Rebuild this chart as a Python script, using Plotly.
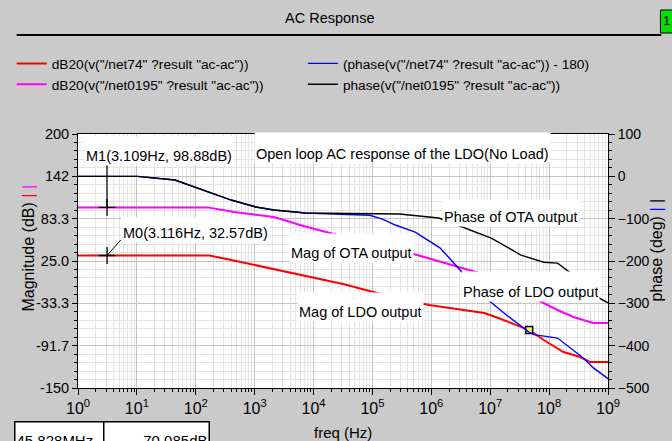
import numpy as np
import plotly.graph_objects as go

# ---------------- data ----------------
ldo_mag_freq = [1, 171, 400, 1.44e3, 6.73e3, 3.16e4, 2.18e5, 9.12e5, 7.94e6, 1.37e7,
                4.58e7, 8.09e7, 1.75e8, 3.38e8, 4.98e8, 1e9]
ldo_mag_db = [32.57, 32.57, 26.4, 16.7, 4.3, -6.7, -24.6, -35.6, -46.7, -53.5,
              -70.1, -83.9, -100.4, -107.3, -114.2, -114.2]

ota_mag_freq = [1, 158, 450, 2.11e3, 6.73e3, 3.41e4, 5.74e5, 1.51e6, 8.59e6, 5.94e7,
                1.39e8, 2.58e8, 5.58e8, 1e9]
ota_mag_db = [98.88, 98.88, 92.5, 85.6, 73.2, 58.1, 33.3, 23.6, 5.7, -27.4,
              -42.5, -52.2, -60.4, -60.4]

ldo_phase_freq = [1, 10.2, 44.2, 158, 400, 1.05e3, 2.11e3, 7.28e3, 3.84e4, 8.97e4,
                  1.48e5, 2.45e5, 5.31e5, 1.4e6, 2.49e6, 3.67e6, 9.29e6, 1.86e7,
                  4.53e7, 5.5e7, 1.39e8, 2.3e8, 3.8e8, 5.58e8, 1e9]
ldo_phase_deg = [0, 0, -8.7, -37, -56, -72.5, -79.6, -86.7, -91, -92,
                 -101, -115, -132, -169, -207, -233, -292, -327,
                 -368, -374, -382, -405, -429, -452, -478]

ota_phase_freq = [1, 10.2, 44.2, 158, 400, 1.05e3, 2.11e3, 7.28e3, 2.86e5, 1.34e6,
                  2.69e6, 1.04e7, 3.33e7, 8.09e7, 1.39e8, 2.58e8, 6.53e8, 1e9]
ota_phase_deg = [0, 0, -8.7, -37, -56, -72.5, -79.6, -86.7, -89, -98.5,
                 -115, -146, -186, -203, -205, -233, -285, -299]

series_names = ['dB20(v("/net74" ?result "ac-ac"))',
                'dB20(v("/net0195" ?result "ac-ac"))',
                '(phase(v("/net74" ?result "ac-ac")) - 180)',
                'phase(v("/net0195" ?result "ac-ac"))']
series_colors = ["#ff0000", "#ff00ff", "#0000ff", "#000000"]

marker_freq = [3.116, 3.109]
marker_db = [32.57, 98.88]
marker_labels = ["M0(3.116Hz, 32.57dB)", "M1(3.109Hz, 98.88dB)"]

cursor_freq = [45.828e6]
cursor_db = [-70.085]
cursor_text = ["45.828MHz", "-70.085dB"]

curve_labels = ["Mag of OTA output", "Mag of LDO output",
                "Phase of OTA output", "Phase of LDO output"]
chart_note = "Open loop AC response of the LDO(No Load)"

mag_ticks = [200, 141.667, 83.333, 25.0, -33.333, -91.667, -150]
mag_tick_text = ["200", "142", "83.3", "25.0", "-33.3", "-91.7", "-150"]
phase_ticks = [100, 0, -100, -200, -300, -400, -500]
freq_ticks = [1e0, 1e1, 1e2, 1e3, 1e4, 1e5, 1e6, 1e7, 1e8, 1e9]
freq_tick_text = ["10<sup>%d</sup>" % k for k in range(10)]

# ---------------- layout helpers ----------------
W, H = 672, 441
L, R, T, B = 72, 64, 134, 53
PW, PH = W - L - R, H - T - B
FONT = "Liberation Sans, Arial, sans-serif"
GRID = "#c4c4c4"
MINOR = "#e4e4e4"
PAPER = "#cacaca"


def xp(px):
    return (px - L) / PW


def yp(py):
    return (H - B - py) / PH


fig = go.Figure()

# draw order: red, magenta, blue, black ; legend order row-wise: red, blue / magenta, black
xs = [ldo_mag_freq, ota_mag_freq, ldo_phase_freq, ota_phase_freq]
ys = [ldo_mag_db, ota_mag_db, ldo_phase_deg, ota_phase_deg]
axes = ["y", "y", "y2", "y2"]
widths = [2, 2, 1.4, 1.4]
ranks = [1, 3, 2, 4]
for i in range(4):
    fig.add_trace(go.Scatter(x=xs[i], y=ys[i], mode="lines", name=series_names[i],
                             yaxis=axes[i], legendrank=ranks[i],
                             line=dict(color=series_colors[i], width=widths[i])))

fig.add_trace(go.Scatter(x=marker_freq, y=marker_db, mode="markers", showlegend=False,
                         marker=dict(symbol="cross-thin", size=12,
                                     line=dict(color="black", width=1.3))))
fig.add_trace(go.Scatter(x=cursor_freq, y=cursor_db, mode="markers", showlegend=False,
                         marker=dict(symbol="square", size=7, color="#ffee66",
                                     line=dict(color="black", width=1.5))))

ann = []
tf = dict(family=FONT, size=14.5, color="black")

# marker leader lines (M0 diagonal, M1 vertical)
ann.append(dict(x=np.log10(marker_freq[0]), y=marker_db[0], xref="x", yref="y",
                text="", showarrow=True, arrowhead=0, arrowwidth=1, arrowcolor="black",
                ax=15, ay=-17))
ann.append(dict(x=np.log10(marker_freq[1]), y=marker_db[1], xref="x", yref="y",
                text="", showarrow=True, arrowhead=0, arrowwidth=1.2, arrowcolor="black",
                ax=0, ay=-44))

# white-backed labels: (text, left px, bottom px, height)
labels = [
    (chart_note, 250, 164, 28),
    (marker_labels[1], 78, 166, 26),
    (marker_labels[0], 115, 243, 22),
    (curve_labels[0], 285, 263, 26),
    (curve_labels[1], 293, 322, 26),
    (curve_labels[2], 440, 227, 24),
    (curve_labels[3], 459, 302, 27),
]
for text, lx, by, hh in labels:
    ann.append(dict(x=xp(lx), y=yp(by), xref="paper", yref="paper", text=text,
                    showarrow=False, xanchor="left", yanchor="bottom", height=hh,
                    valign="bottom", bgcolor="white", borderpad=1, font=tf))


def centered(text, cx, cy, size, angle=0):
    return dict(x=xp(cx), y=yp(cy), xref="paper", yref="paper", text=text,
                showarrow=False, xanchor="center", yanchor="middle", textangle=angle,
                font=dict(family=FONT, size=size, color="black"))


# titles
ann.append(centered("AC Response", 326, 18, 14.5))
ann.append(centered("freq (Hz)", 340, 432, 15))
ann.append(centered("Magnitude (dB) <span style='color:#ff0000'>|</span> "
                    "<span style='color:#ff00ff'>|</span>", 21, 248, 16, -90))
ann.append(centered("phase (deg) <span style='color:#0000ff'>|</span> "
                    "<span style='color:#000000'>|</span>", 657, 250, 16, -90))
ann.append(centered("1", 667, 21, 13))

# cursor readout boxes at the bottom
ann.append(dict(x=xp(7), y=yp(421), xref="paper", yref="paper", text=cursor_text[0],
                showarrow=False, xanchor="left", yanchor="top", width=86, height=34,
                align="left", valign="middle", bgcolor="white", bordercolor="black",
                borderwidth=1.5, borderpad=1, font=dict(family=FONT, size=15, color="black")))
ann.append(dict(x=xp(97), y=yp(421), xref="paper", yref="paper", text=cursor_text[1],
                showarrow=False, xanchor="left", yanchor="top", width=102, height=34,
                align="right", valign="middle", bgcolor="white", bordercolor="black",
                borderwidth=1.5, borderpad=1, font=dict(family=FONT, size=15, color="black")))

shapes = [
    dict(type="line", xref="paper", yref="paper", x0=xp(10), x1=xp(662), y0=yp(35), y1=yp(35),
         line=dict(color="black", width=2)),
    dict(type="rect", xref="paper", yref="paper", x0=xp(661), x1=xp(676), y0=yp(33), y1=yp(10),
         fillcolor="#00e000", line=dict(color="black", width=1)),
]

minor_x = [m * 10 ** k for k in range(9) for m in range(2, 10)]

fig.update_layout(
    width=W, height=H, autosize=False,
    margin=dict(l=L, r=R, t=T, b=B, pad=0),
    paper_bgcolor=PAPER, plot_bgcolor="white",
    font=dict(family=FONT, size=14, color="black"),
    showlegend=True,
    legend=dict(orientation="h", x=xp(5), y=yp(48), xanchor="left", yanchor="top",
                xref="paper", yref="paper",
                bgcolor="rgba(0,0,0,0)", borderwidth=0, traceorder="normal",
                font=dict(family=FONT, size=13.7, color="black"), itemwidth=30),
    annotations=ann,
    shapes=shapes,
    xaxis=dict(type="log", range=[0, 9], tickmode="array", tickvals=freq_ticks,
               ticktext=freq_tick_text, ticks="outside", ticklen=6, tickcolor="black",
               tickfont=dict(family=FONT, size=16, color="black"),
               showline=True, linecolor="black", linewidth=1, mirror=True,
               showgrid=True, gridcolor=GRID, gridwidth=1, zeroline=False,
               minor=dict(tickmode="array", tickvals=minor_x, ticks="outside", ticklen=3,
                          tickcolor="black", showgrid=True, gridcolor=MINOR)),
    yaxis=dict(range=[-150, 200], tickmode="array", tickvals=mag_ticks, ticktext=mag_tick_text,
               ticks="outside", ticklen=5, tickcolor="black",
               tickfont=dict(family=FONT, size=14.5, color="black"),
               showline=True, linecolor="black", linewidth=1, mirror=True,
               showgrid=True, gridcolor=GRID, zeroline=False,
               minor=dict(tick0=-150, dtick=350 / 30, ticks="outside", ticklen=3,
                          tickcolor="black", showgrid=True, gridcolor=MINOR)),
    yaxis2=dict(range=[-500, 100], overlaying="y", side="right", tickmode="array",
                tickvals=phase_ticks, ticks="outside", ticklen=6, tickcolor="black",
                tickfont=dict(family=FONT, size=14, color="black"),
                showline=True, linecolor="black", linewidth=1, showgrid=False, zeroline=False,
                minor=dict(tick0=-500, dtick=20, ticks="outside", ticklen=3,
                           tickcolor="black", showgrid=False)),
)

fig.write_html("out.html", config={"displayModeBar": False},
               post_script="document.body.style.margin='0px';document.body.style.overflow='hidden';")
